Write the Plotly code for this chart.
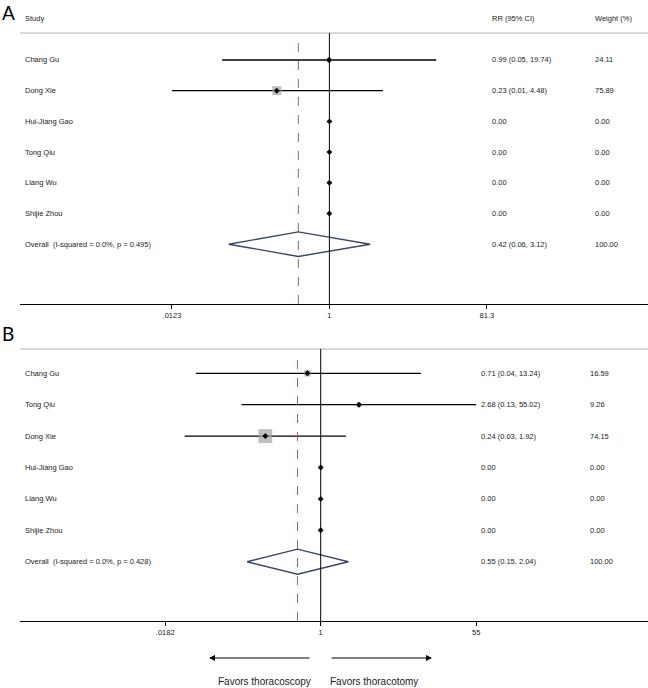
import plotly.graph_objects as go
import math

# ---------------- data ----------------
studies_a = ["Chang Gu", "Dong Xie", "Hui-Jiang Gao", "Tong Qiu", "Liang Wu", "Shijie Zhou"]
rr_a = [0.99, 0.23, 1, 1, 1, 1]            # plotted point (zero-event studies at 1)
lo_a = [0.05, 0.0123, None, None, None, None]
hi_a = [19.74, 4.48, None, None, None, None]
w_a = [24.11, 75.89, 0.00, 0.00, 0.00, 0.00]
rr_txt_a = ["0.99 (0.05, 19.74)", "0.23 (0.01, 4.48)", "0.00", "0.00", "0.00", "0.00"]
w_txt_a = ["24.11", "75.89", "0.00", "0.00", "0.00", "0.00"]
overall_a = (0.42, 0.06, 3.12)
overall_lab_a = "Overall  (I-squared = 0.0%, p = 0.495)"
overall_txt_a = ["0.42 (0.06, 3.12)", "100.00"]
ticks_a = [0.0123, 1, 81.3]
ticklab_a = [".0123", "1", "81.3"]

studies_b = ["Chang Gu", "Tong Qiu", "Dong Xie", "Hui-Jiang Gao", "Liang Wu", "Shijie Zhou"]
rr_b = [0.71, 2.68, 0.24, 1, 1, 1]
lo_b = [0.04, 0.13, 0.03, None, None, None]
hi_b = [13.24, 55.02, 1.92, None, None, None]
w_b = [16.59, 9.26, 74.15, 0.00, 0.00, 0.00]
rr_txt_b = ["0.71 (0.04, 13.24)", "2.68 (0.13, 55.02)", "0.24 (0.03, 1.92)", "0.00", "0.00", "0.00"]
w_txt_b = ["16.59", "9.26", "74.15", "0.00", "0.00", "0.00"]
overall_b = (0.55, 0.15, 2.04)
overall_lab_b = "Overall  (I-squared = 0.0%, p = 0.428)"
overall_txt_b = ["0.55 (0.15, 2.04)", "100.00"]
ticks_b = [0.0182, 1, 55]
ticklab_b = [".0182", "1", "55"]

# ---------------- geometry ----------------
W, H = 648, 688
FONT = "Liberation Sans, Arial, sans-serif"
TXT = "#1a1a1a"
FS = 7.5

def py(p):  # pixel (from top) -> paper y
    return 1 - p / H

def px(p):
    return p / W

panels = [
    dict(studies=studies_a, rr=rr_a, lo=lo_a, hi=hi_a, w=w_a, rr_txt=rr_txt_a, w_txt=w_txt_a,
         ov=overall_a, ov_lab=overall_lab_a, ov_txt=overall_txt_a, ticks=ticks_a, ticklab=ticklab_a,
         top=33, bottom=304, row1=60, step=30.7, center=329.4, pxln=35.8, box=1.03,
         col_rr=490, col_w=593, xa="x", ya="y", header=True),
    dict(studies=studies_b, rr=rr_b, lo=lo_b, hi=hi_b, w=w_b, rr_txt=rr_txt_b, w_txt=w_txt_b,
         ov=overall_b, ov_lab=overall_lab_b, ov_txt=overall_txt_b, ticks=ticks_b, ticklab=ticklab_b,
         top=349, bottom=621, row1=373.3, step=31.4, center=320.7, pxln=38.8, box=1.6,
         col_rr=479, col_w=588, xa="x2", ya="y2", header=False),
]

fig = go.Figure()
annotations = []
shapes = []
LEFT = 20

def add_text(xpix, yv, t, yref, size=FS, xanchor="left", family=FONT, color=TXT):
    annotations.append(dict(x=px(xpix), y=yv, xref="paper", yref=yref, text=t, showarrow=False,
                            xanchor=xanchor, yanchor="middle",
                            font=dict(size=size, color=color, family=family)))

for i, p in enumerate(panels):
    xa, ya = p["xa"], p["ya"]
    n = len(p["studies"])
    rows = list(range(1, n + 1))
    ov_row = n + 1
    # CI lines
    xs, ys = [], []
    for r, lo, hi in zip(rows, p["lo"], p["hi"]):
        if lo is not None:
            xs += [lo, hi, None]
            ys += [r, r, None]
    fig.add_trace(go.Scatter(x=xs, y=ys, mode="lines", line=dict(color="black", width=1.3),
                             xaxis=xa, yaxis=ya, hoverinfo="skip", showlegend=False))
    # weight boxes
    bx = [rr for rr, w in zip(p["rr"], p["w"]) if w > 0]
    by = [r for r, w in zip(rows, p["w"]) if w > 0]
    bs = [p["box"] * math.sqrt(w) for w in p["w"] if w > 0]
    fig.add_trace(go.Scatter(x=bx, y=by, mode="markers",
                             marker=dict(symbol="square", size=bs, color="#a3a3a3", line=dict(width=0)),
                             xaxis=xa, yaxis=ya, hoverinfo="skip", showlegend=False))
    # point estimates
    fig.add_trace(go.Scatter(x=p["rr"], y=rows, mode="markers",
                             marker=dict(symbol="diamond", size=4.5, color="black"),
                             xaxis=xa, yaxis=ya, hoverinfo="skip", showlegend=False))
    # overall diamond
    est, lo, hi = p["ov"]
    hh = 0.4
    fig.add_trace(go.Scatter(x=[lo, est, hi, est, lo], y=[ov_row, ov_row - hh, ov_row, ov_row + hh, ov_row],
                             mode="lines", line=dict(color="#3a4868", width=1.4),
                             xaxis=xa, yaxis=ya, hoverinfo="skip", showlegend=False))

    # axes
    span_l = (LEFT - p["center"]) / (p["pxln"] * math.log(10))
    span_r = (W - p["center"]) / (p["pxln"] * math.log(10))
    r_top = 1 + (p["top"] - p["row1"]) / p["step"]
    r_bot = 1 + (p["bottom"] - p["row1"]) / p["step"]
    xkey = "xaxis" if xa == "x" else "xaxis2"
    ykey = "yaxis" if ya == "y" else "yaxis2"
    fig.update_layout(**{
        xkey: dict(type="log", range=[span_l, span_r], domain=[px(LEFT), 1], anchor=ya,
                   showgrid=False, zeroline=False, showline=True, linecolor="black", linewidth=1,
                   ticks="outside", ticklen=4, tickwidth=1, tickcolor="black",
                   tickvals=p["ticks"], ticktext=p["ticklab"],
                   tickfont=dict(size=FS, color=TXT, family=FONT)),
        ykey: dict(range=[r_bot, r_top], domain=[py(p["bottom"]), py(p["top"])], anchor=xa,
                   visible=False, showgrid=False, zeroline=False),
    })
    # header gray line
    shapes.append(dict(type="line", xref="paper", yref="paper", x0=px(LEFT), x1=1,
                       y0=py(p["top"]), y1=py(p["top"]), line=dict(color="#d9d9d9", width=2)))
    # null line
    shapes.append(dict(type="line", xref=xa, yref=ya + " domain", x0=1, x1=1, y0=0, y1=1,
                       line=dict(color="black", width=1)))
    # overall dashed line
    shapes.append(dict(type="line", xref=xa, yref=ya + " domain", x0=est, x1=est, y0=0, y1=0.99,
                       line=dict(color="#a0606e", width=1, dash="dash")))

    # text
    for r, s, t1, t2 in zip(rows, p["studies"], p["rr_txt"], p["w_txt"]):
        add_text(23, r, s, ya)
        add_text(p["col_rr"], r, t1, ya)
        add_text(p["col_w"], r, t2, ya)
    add_text(23, ov_row, p["ov_lab"], ya)
    add_text(p["col_rr"], ov_row, p["ov_txt"][0], ya)
    add_text(p["col_w"], ov_row, p["ov_txt"][1], ya)
    if p["header"]:
        for xx, t in [(23, "Study"), (p["col_rr"], "RR (95% CI)"), (p["col_w"], "Weight (%)")]:
            add_text(xx, py(18.5), t, "paper")

# panel letters
add_text(0, py(12), "A", "paper", size=19, family="Lato, sans-serif", color="black")
add_text(0, py(333), "B", "paper", size=19, family="Lato, sans-serif", color="black")

# favors arrows
annotations.append(dict(x=px(209), y=py(658), xref="paper", yref="paper", ax=102, ay=0, axref="pixel",
                        ayref="pixel", text="", showarrow=True, arrowhead=2, arrowsize=1.2, arrowwidth=1,
                        arrowcolor="black"))
annotations.append(dict(x=px(432), y=py(658), xref="paper", yref="paper", ax=-102, ay=0, axref="pixel",
                        ayref="pixel", text="", showarrow=True, arrowhead=2, arrowsize=1.2, arrowwidth=1,
                        arrowcolor="black"))
add_text(264, py(681), "Favors thoracoscopy", "paper", size=10, xanchor="center")
add_text(374, py(681), "Favors thoracotomy", "paper", size=10, xanchor="center")

fig.update_layout(width=W, height=H, margin=dict(l=0, r=0, t=0, b=0),
                  paper_bgcolor="white", plot_bgcolor="white",
                  annotations=annotations, shapes=shapes, showlegend=False)

fig.write_html("out.html", config={"displayModeBar": False},
               post_script="document.body.style.margin='0';document.body.style.overflow='hidden';")
